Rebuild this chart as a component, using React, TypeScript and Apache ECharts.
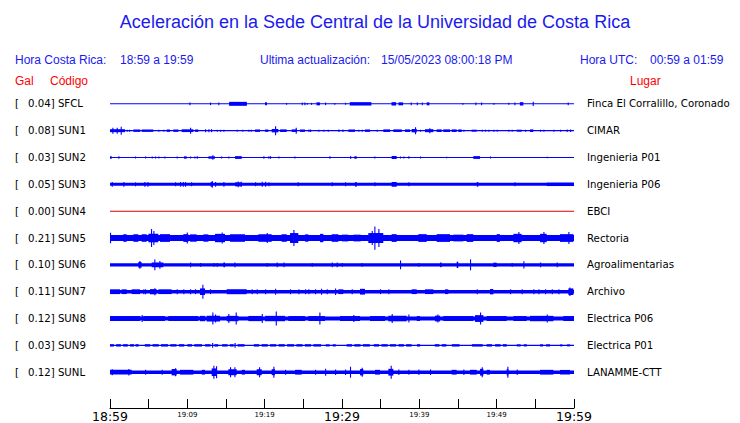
import React, { useEffect, useRef } from "react";
import * as echarts from "echarts";

// ---------- data ----------
const CODES = ["SFCL", "SUN1", "SUN2", "SUN3", "SUN4", "SUN5", "SUN6", "SUN7", "SUN8", "SUN9", "SUNL"];
const GAL = [0.04, 0.08, 0.03, 0.05, 0.0, 0.21, 0.1, 0.11, 0.12, 0.03, 0.12];
const SITES = [
  "Finca El Corralillo, Coronado",
  "CIMAR",
  "Ingenieria P01",
  "Ingenieria P06",
  "EBCI",
  "Rectoria",
  "Agroalimentarias",
  "Archivo",
  "Electrica P06",
  "Electrica P01",
  "LANAMME-CTT",
];
const TICK_LABELS = ["18:59", "19:09", "19:19", "19:29", "19:39", "19:49", "19:59"];
const MAJOR_LABELS = ["18:59", "19:29", "19:59"];

// Background (quiet) half-amplitude of each trace, relative units
const BASE_AMP = [0.5, 0.6, 0.5, 1.5, 0.5, 3, 1.7, 1.7, 2, 0.6, 1.7];

// Bursts per trace: [start minute, end minute, half-amplitude]
const SFCL = [[10.26,10.26,1.3],[12.93,12.93,1.3],[14.0,14.0,1.3],[15.4,17.7,2],[20.05,20.3,1.5],[22.76,22.76,0.8],[24.79,24.79,1.3],[25.13,25.13,1.3],[25.43,25.43,0.8],[25.99,25.99,1],[26.7,27.15,1.5],[27.8,27.8,1.3],[29.0,29.0,0.8],[30.39,30.39,1],[31.0,33.8,1.7],[36.4,37.0,1.7],[37.3,37.9,1.5],[38.88,38.88,1.3],[39.66,39.66,1.3],[40.31,40.31,1.3],[40.96,41.3,1.5],[45.56,45.56,0.8],[47.24,47.24,1.3],[47.98,47.98,1.3],[49.57,49.57,0.8],[51.5,51.5,1],[52.29,52.29,1.3],[53.0,53.45,1.7],[54.66,54.66,2.2],[59.18,59.18,1.3]];
const SUN1 = [[0,1.94,1.5],[0.3,0.3,3],[0.86,0.86,3],[1.38,1.38,4],[2.16,2.16,1],[2.46,2.46,1],[3.02,3.9,1.2],[4.1,5.6,1.2],[6.25,6.25,1],[6.9,6.9,1],[7.33,7.76,1.2],[8.19,8.84,1.2],[9.27,10.78,1.4],[10.35,10.35,3],[10.99,11.42,1.2],[12.29,12.29,1.5],[12.72,12.72,1.5],[13.06,13.06,1.5],[13.8,13.8,1],[14.23,14.23,1],[14.66,14.66,1],[16.38,16.5,1],[17.1,17.24,1],[17.89,17.89,1],[18.19,18.19,1],[18.75,19.4,1.2],[20.05,20.48,1.2],[20.91,21.77,1.7],[21.34,21.34,4.5],[21.99,22.85,1.3],[23.5,24.14,1.3],[24.01,24.01,3],[24.57,25.22,1.2],[25.65,25.65,1.3],[25.87,25.87,1.3],[26.94,26.94,1],[27.59,27.59,1],[28.15,28.15,1],[29.53,29.53,1.3],[30.05,30.05,1.3],[30.82,31.68,1.2],[32.11,32.11,1],[32.54,32.54,1],[32.97,33.62,1.2],[34.48,34.48,1],[35.34,36.21,1.3],[36.64,37.72,1.3],[38.15,38.79,1.3],[39.01,39.66,1.7],[39.44,39.44,3.5],[40.09,40.09,1],[40.73,41.81,1.5],[41.29,41.29,2.5],[42.24,42.89,1.3],[43.1,43.97,1.3],[44.18,44.83,1.3],[45.04,45.48,1.3],[45.69,45.69,1],[46.77,47.42,1],[48.06,48.06,1],[48.49,48.49,1],[48.92,48.92,1],[49.57,49.57,1],[50.0,50.0,1],[51.51,51.51,1],[51.94,51.94,1],[52.59,53.23,1],[53.67,53.67,1],[54.31,54.74,1.3],[55.61,55.61,1],[56.04,56.04,1],[57.33,57.33,1],[58.19,58.19,1],[59.05,59.05,1.3],[59.49,59.49,1.3]];
const SUN2 = [[0,0.22,1.3],[1.08,1.08,1.3],[3.23,3.23,1],[4.53,4.53,1],[5.39,5.39,1],[5.82,5.82,1],[6.25,6.25,1],[7.03,7.03,1],[8.62,8.62,1],[9.57,9.92,1.2],[10.35,10.35,1],[10.91,10.91,1],[11.21,11.21,1.3],[12.72,13.58,1.2],[13.23,13.23,2.3],[14.36,14.36,1],[15.3,15.3,1],[16.17,17.03,1.4],[19.83,19.83,1.3],[20.48,20.48,1.3],[20.69,20.69,1.3],[21.77,21.77,1],[23.84,23.84,1],[28.37,28.37,1.3],[31.03,31.2,1.3],[31.6,31.9,1.3],[34.18,34.18,1],[36.42,37.07,1.5],[37.5,37.5,1],[37.93,37.93,1],[38.58,38.58,1.3],[40.09,40.09,1],[43.45,43.45,0.8],[46.98,47.85,1.4],[49.14,49.14,1],[56.47,56.47,0.8]];
const SUN3 = [[0.22,0.22,2.3],[1.72,1.72,2.3],[3.23,3.23,2],[4.44,4.44,2.3],[4.83,4.83,2.3],[8.41,8.41,2],[9.05,9.05,2.3],[9.4,9.4,2.3],[9.7,9.7,2.3],[10.48,10.48,2],[13.0,13.3,2.3],[13.15,13.15,3.3],[13.58,13.58,2.3],[14.66,14.66,2.3],[16.17,17.03,2.0],[16.5,16.5,2.8],[16.9,16.9,2.5],[18.75,18.75,2],[19.62,19.62,2.5],[20.05,20.05,2.5],[20.48,20.48,2],[24.27,24.27,2],[28.67,28.67,2],[30.39,30.39,2],[31.68,31.9,2.3],[34.18,34.18,2],[36.42,37.07,2.4],[38.58,38.58,2],[47.42,47.63,2.3],[52.29,52.29,2],[56.47,60,1.7]];
const SUN4: number[][] = [];
const SUN5 = [[0,0.1,5.3],[1.72,2.16,3.8],[3.02,3.66,3.8],[4.09,4.74,3.8],[4.96,6.25,4.3],[5.3,5.3,9],[5.6,5.6,7],[6.47,7.76,3.9],[9.48,10.13,3.9],[9.92,9.92,5.5],[10.35,11.21,3.7],[12.07,12.72,3.7],[13.58,14.87,4.2],[14.44,14.44,5.5],[15.52,17.46,3.8],[19.18,20.91,3.8],[20.26,20.26,5],[22.2,22.85,3.8],[23.28,24.35,5],[23.71,23.71,8],[25.22,25.65,3.7],[27.16,27.59,4.2],[28.67,29.53,3.8],[30.0,30.8,3.4],[31.5,32.4,3.4],[33.4,35.34,5],[33.84,33.84,7],[34.18,34.18,11.7],[34.7,34.7,9],[36.42,37.07,3.9],[39.87,40.95,3.9],[42.24,43.97,3.9],[44.4,45.69,3.4],[46.12,46.98,3.9],[50.0,50.43,3.9],[52.16,53.23,4.2],[52.8,52.8,6],[55.61,56.47,4.2],[56.04,56.04,6],[58.19,59.92,3.9],[59.27,59.27,6]];
const SUN6 = [[3.66,4.09,2.8],[3.79,3.79,4],[5.39,6.9,2.4],[5.73,5.73,5.5],[6.38,6.38,4],[10.35,10.35,2.3],[11.64,11.64,2],[13.36,13.36,2],[13.8,13.8,2],[14.66,14.87,2.5],[16.08,16.08,2.3],[20.26,20.26,2],[21.55,21.55,2.3],[22.42,22.42,2.3],[26.08,26.08,2],[28.67,28.67,2.3],[29.31,29.31,2.3],[29.96,29.96,2],[32.54,32.54,2],[37.5,37.5,4.5],[39.87,39.87,2],[42.67,42.89,2.3],[44.83,45.04,3.2],[46.55,46.55,5.5],[49.57,50.0,2.2],[51.94,51.94,2],[53.45,53.45,3.7],[55.61,55.61,2.5],[57.76,57.76,2.3]];
const SUN7 = [[0,1.29,2.4],[1.51,2.16,2.4],[2.8,3.88,2.4],[4.31,4.31,2.5],[4.53,4.53,2.5],[5.17,6.03,2.6],[5.73,5.73,3.5],[6.25,7.97,2.4],[8.62,8.62,2.5],[9.48,9.48,2.5],[10.35,10.35,2.5],[10.99,10.99,2.5],[11.64,12.29,3.3],[11.94,11.94,7],[12.93,12.93,2.5],[15.09,17.67,2.5],[18.32,18.32,2.5],[18.97,18.97,2.5],[20.05,20.05,2.5],[21.34,21.34,3],[23.28,23.28,2.5],[24.35,24.35,2.5],[25.22,25.22,2.5],[25.65,25.65,2.5],[26.51,26.51,2.5],[27.29,27.29,3],[28.02,28.02,2.5],[29.1,29.1,3.3],[29.53,30.17,2.4],[31.25,31.25,2.5],[32.33,32.97,2.9],[34.91,34.91,2.5],[35.99,35.99,2.5],[39.01,39.66,2.4],[40.73,41.81,2.4],[43.32,43.75,2.4],[47.42,47.42,2.5],[49.14,49.57,2.7],[51.73,51.73,2.5],[53.23,53.23,2.5],[54.74,54.74,2.5],[55.39,55.39,2.5],[56.25,56.25,2.5],[57.12,57.12,2.5],[57.98,57.98,2.5],[59.27,59.92,3.3],[59.4,59.4,4.3]];
const SUN8 = [[0,3.9,2.5],[4.09,4.09,3.5],[4.3,7.11,2.5],[7.54,11.42,2.5],[11.64,12.29,2.7],[12.5,14.23,2.9],[13.23,13.23,6],[13.58,13.58,4],[15.09,16.6,2.7],[15.3,15.3,4.5],[16.25,16.25,6],[17.89,19.62,2.6],[19.62,19.62,4.5],[20.05,22.63,2.7],[21.43,21.43,7],[23.06,25.22,2.5],[25.65,27.81,2.5],[27.07,27.07,6],[29.74,32.33,2.5],[31.46,31.46,3.5],[33.62,35.56,2.5],[35.99,38.36,2.8],[36.42,36.42,4.5],[38.58,38.58,4],[39.66,40.09,2.5],[42.03,42.67,2.9],[42.33,42.33,4],[43.1,46.98,2.5],[47.2,48.28,3.4],[47.85,47.85,6],[48.71,51.3,2.5],[52.16,53.88,2.5],[54.31,57.33,2.7],[56.47,56.47,4],[58.62,60,2.5]];
const SUN9 = [[0.0,0.5,1.2],[0.8,1.4,1.2],[1.7,2.3,1.2],[2.6,3.1,1.2],[3.3,3.7,1.2],[4.5,5.2,1.2],[5.5,6.3,1.2],[6.6,7.5,1.2],[7.8,8.6,1.2],[8.9,9.6,1.2],[10.0,10.6,1.2],[10.9,11.9,1.2],[12.3,13.0,1.2],[13.2,13.3,2.3],[13.5,14.0,1.2],[14.5,15.2,1.2],[15.5,16.0,1.2],[16.1,16.25,2.3],[16.5,17.4,1.2],[18.6,19.3,1.2],[19.6,20.4,1.2],[20.7,21.5,1.2],[21.8,22.6,1.2],[22.9,23.8,1.2],[24.1,24.9,1.2],[25.2,26.0,1.2],[26.3,27.3,1.2],[27.9,28.4,1.1],[28.8,29.2,1.1],[30.6,31.3,1.2],[31.6,32.4,1.2],[32.7,33.6,1.2],[34.1,34.8,1.2],[35.1,35.9,1.2],[36.2,37.0,1.2],[37.3,38.0,1.2],[38.3,39.0,1.2],[39.7,40.1,1.2],[42.0,42.6,1.2],[42.9,43.5,1.2],[44.2,45.2,1.2],[46.8,48.2,1.2],[48.7,49.4,1.2],[49.8,50.5,1.2],[50.8,51.3,1.2],[52.6,53.1,1.1],[53.5,53.9,1.1],[55.6,56.0,1.1],[56.4,56.9,1.1],[58.2,58.5,1],[59.1,59.5,1]];
const SUNL = [[0,2.8,2.4],[0.22,0.22,3],[2.37,2.37,3.3],[4.53,4.53,2.5],[6.68,6.68,2.5],[7.97,8.62,3.2],[8.41,8.41,4],[9.05,10.78,2.4],[11.86,12.29,2.4],[13.15,13.8,3.8],[13.36,13.36,6.5],[13.71,13.71,6],[15.3,16.38,3.0],[15.52,15.52,5],[16.08,16.08,5],[17.03,17.46,2.4],[18.97,19.62,3.0],[19.27,19.27,5],[20.91,21.34,3.0],[21.12,21.12,5.5],[22.63,22.63,2.5],[23.93,24.79,2.4],[26.51,26.51,2.5],[27.81,27.81,3.5],[29.1,29.1,2.7],[30.39,30.39,2.7],[31.03,31.03,5.5],[32.33,32.76,3.2],[32.54,32.54,4.5],[34.27,34.91,2.4],[35.99,36.64,3.4],[36.29,36.29,6.5],[37.28,37.28,2.7],[38.58,38.58,2.5],[39.87,39.87,2.7],[41.38,41.38,2.7],[44.18,44.83,2.4],[45.69,45.69,2.7],[46.55,47.42,2.4],[47.85,48.28,3.4],[48.06,48.06,5],[48.71,49.14,2.4],[51.3,51.51,3.2],[51.38,51.38,5.5],[52.59,52.59,2.7],[55.6,57.33,2.4],[58.19,59.49,2.3]];

const BURSTS = [SFCL, SUN1, SUN2, SUN3, SUN4, SUN5, SUN6, SUN7, SUN8, SUN9, SUNL];
const DURATION_MIN = 60;

// ---------- component ----------
const BLUE = "#0000ff";
const RED = "#ff0000";
const TEXT_BLUE = "#1a1aee";
const AMP_TO_ROW = 1 / 27;

export default function App() {
  const ref = useRef<HTMLDivElement>(null);

  useEffect(() => {
    document.body.style.margin = "0";
    if (!ref.current) return;
    const chart = echarts.init(ref.current, undefined, { renderer: "svg" });

    const traceData: number[][] = [];
    CODES.forEach((_, row) => {
      traceData.push([0, DURATION_MIN, row, BASE_AMP[row]]);
      BURSTS[row].forEach((b) => traceData.push([b[0], b[1], row, b[2]]));
    });

    const sans = '"Liberation Sans", Arial, sans-serif';
    const dv = '"DejaVu Sans", sans-serif';

    const yCommon = {
      type: "value" as const,
      min: -1,
      max: 11.3333,
      interval: 1,
      inverse: true,
      axisLine: { show: false },
      axisTick: { show: false },
      splitLine: { show: false },
    };

    chart.setOption({
      animation: false,
      backgroundColor: "#ffffff",
      grid: { left: 110, top: 77, width: 464, height: 332 },
      xAxis: {
        type: "value",
        position: "bottom",
        min: 0,
        max: DURATION_MIN,
        interval: 5,
        axisLine: { show: true, onZero: false, lineStyle: { color: "#000", width: 1 } },
        axisTick: { show: true, inside: true, length: 9, lineStyle: { color: "#000" } },
        splitLine: { show: false },
        axisLabel: {
          interval: 0,
          margin: 2,
          showMinLabel: true,
          showMaxLabel: true,
          color: "#000",
          formatter: (v: number) => {
            if (v % 10 !== 0) return "";
            const lbl = TICK_LABELS[v / 10];
            return MAJOR_LABELS.includes(lbl) ? `{big|${lbl}}` : `{small|${lbl}}`;
          },
          rich: {
            big: { fontSize: 12.5, fontFamily: dv, color: "#000" },
            small: { fontSize: 7, fontFamily: dv, color: "#000", padding: [1, 0, 0, 0] },
          },
        },
      },
      yAxis: [
        {
          ...yCommon,
          position: "left",
          axisLabel: {
            margin: 95,
            align: "left",
            color: "#000",
            formatter: (v: number) =>
              v >= 0 && v < CODES.length ? `{a|[}{b|${GAL[v].toFixed(2)}] ${CODES[v]}}` : "",
            rich: {
              a: { width: 13, fontSize: 10.2, fontFamily: dv, color: "#000" },
              b: { fontSize: 10.2, fontFamily: dv, color: "#000" },
            },
          },
        },
        {
          ...yCommon,
          position: "right",
          axisLabel: {
            margin: 13,
            align: "left",
            color: "#000",
            fontSize: 10.2,
            fontFamily: dv,
            formatter: (v: number) => (v >= 0 && v < SITES.length ? SITES[v] : ""),
          },
        },
      ],
      series: [
        {
          type: "custom",
          clip: false,
          xAxisIndex: 0,
          yAxisIndex: 0,
          encode: { x: [0, 1], y: 2 },
          data: traceData,
          renderItem: (params: any, api: any) => {
            const t0 = api.value(0);
            const t1 = api.value(1);
            const row = api.value(2);
            const a = api.value(3) * AMP_TO_ROW;
            const p0 = api.coord([t0, row - a]);
            const p1 = api.coord([t1, row + a]);
            const x = Math.min(p0[0], p1[0]);
            const w = Math.max(Math.abs(p1[0] - p0[0]), 1.1);
            const y = Math.min(p0[1], p1[1]);
            const h = Math.max(Math.abs(p1[1] - p0[1]), 1);
            return {
              type: "rect",
              shape: { x, y, width: w, height: h },
              style: { fill: CODES[row] === "SUN4" ? "#dd0000" : BLUE },
            };
          },
        },
      ],
      graphic: [
        {
          type: "text",
          x: 375,
          y: 22,
          style: {
            text: "Aceleración en la Sede Central de la Universidad de Costa Rica",
            fill: TEXT_BLUE,
            font: `18px ${sans}`,
            textAlign: "center",
            textVerticalAlign: "middle",
          },
        },
        { type: "text", x: 15, y: 60, style: { text: "Hora Costa Rica:", fill: TEXT_BLUE, font: `12px ${sans}`, textVerticalAlign: "middle" } },
        { type: "text", x: 120, y: 60, style: { text: "18:59 a 19:59", fill: TEXT_BLUE, font: `12px ${sans}`, textVerticalAlign: "middle" } },
        { type: "text", x: 260, y: 60, style: { text: "Ultima actualización:", fill: TEXT_BLUE, font: `12px ${sans}`, textVerticalAlign: "middle" } },
        { type: "text", x: 381, y: 60, style: { text: "15/05/2023 08:00:18 PM", fill: TEXT_BLUE, font: `12px ${sans}`, textVerticalAlign: "middle" } },
        { type: "text", x: 580, y: 60, style: { text: "Hora UTC:", fill: TEXT_BLUE, font: `12px ${sans}`, textVerticalAlign: "middle" } },
        { type: "text", x: 650, y: 60, style: { text: "00:59 a 01:59", fill: TEXT_BLUE, font: `12px ${sans}`, textVerticalAlign: "middle" } },
        { type: "text", x: 15, y: 81, style: { text: "Gal", fill: RED, font: `12px ${sans}`, textVerticalAlign: "middle" } },
        { type: "text", x: 50, y: 81, style: { text: "Código", fill: RED, font: `12px ${sans}`, textVerticalAlign: "middle" } },
        { type: "text", x: 630, y: 81, style: { text: "Lugar", fill: RED, font: `12px ${sans}`, textVerticalAlign: "middle" } },
      ],
    });

    return () => chart.dispose();
  }, []);

  return (
    <div
      ref={ref}
      style={{ position: "absolute", left: 0, top: 0, width: 740, height: 423, background: "#fff" }}
    />
  );
}
